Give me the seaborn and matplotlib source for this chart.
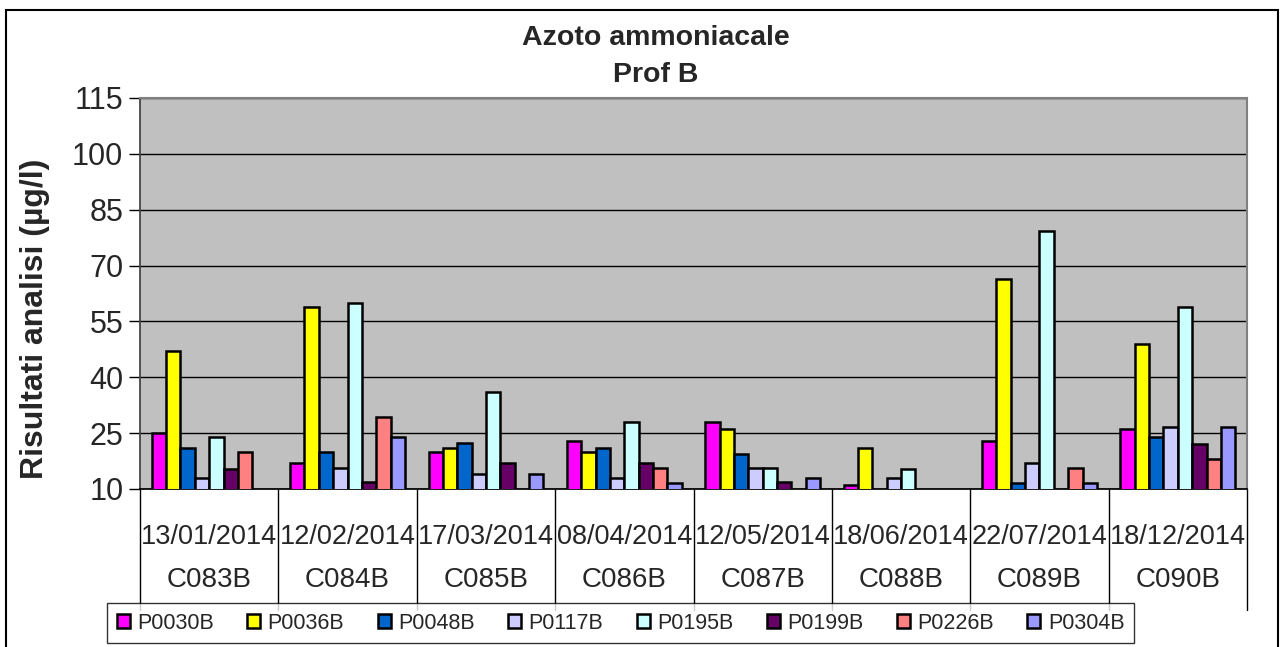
import numpy as np
import pandas as pd
import matplotlib
matplotlib.use("Agg")
import matplotlib.pyplot as plt
import seaborn as sns
from matplotlib.patches import Rectangle
from matplotlib.transforms import blended_transform_factory

# sampling campaigns (code + date)
campagne = ["C083B", "C084B", "C085B", "C086B", "C087B", "C088B", "C089B", "C090B"]
date = ["13/01/2014", "12/02/2014", "17/03/2014", "08/04/2014",
        "12/05/2014", "18/06/2014", "22/07/2014", "18/12/2014"]

punti = ["P0030B", "P0036B", "P0048B", "P0117B", "P0195B", "P0199B", "P0226B", "P0304B"]
colori = ["#FF00FF", "#FFFF00", "#0066CC", "#CCCCFF", "#CCFFFF", "#660066", "#FF8080", "#9999FF"]

nan = np.nan
P0030B = [25, 17, 20, 23, 28, 11.2, 23, 26]
P0036B = [47, 59, 21, 20, 26, 21, 66.4, 49]
P0048B = [21, 20, 22.3, 21, 19.3, nan, 11.7, 24]
P0117B = [13, 15.7, 14, 13, 15.6, 13, 17, 26.7]
P0195B = [24, 60, 36, 28, 15.6, 15.3, 79.3, 59]
P0199B = [15.3, 11.8, 17, 17, 11.8, nan, nan, 22.2]
P0226B = [20, 29.3, nan, 15.7, nan, nan, 15.7, 18]
P0304B = [nan, 24, 14, 11.6, 12.9, nan, 11.5, 26.7]

serie = [P0030B, P0036B, P0048B, P0117B, P0195B, P0199B, P0226B, P0304B]
rows = []
for p, vals in zip(punti, serie):
    for c, v in zip(campagne, vals):
        rows.append({"campagna": c, "punto": p, "valore": v})
df = pd.DataFrame(rows)

sns.set_theme(style="white")
plt.rcParams["font.family"] = ["Liberation Sans", "DejaVu Sans"]

W, H = 1280, 647
fig = plt.figure(figsize=(W / 100, H / 100), dpi=100)
x0, x1, y0, y1 = 140, 1247, 98, 489
ax = fig.add_axes([x0 / W, 1 - y1 / H, (x1 - x0) / W, (y1 - y0) / H])
ax.set_facecolor("#C0C0C0")

sns.barplot(data=df, x="campagna", y="valore", hue="punto", order=campagne,
            hue_order=punti, palette=colori, width=0.83, edgecolor="black",
            linewidth=1.8, saturation=1, errorbar=None, ax=ax, zorder=3)

ax.set_ylim(10, 115)
ax.set_xlim(-0.5, len(campagne) - 0.5)
ax.set_yticks(np.arange(10, 116, 15))
ax.yaxis.grid(True, color="black", linewidth=1)
ax.set_axisbelow(True)
ax.tick_params(axis="y", left=True, length=8, width=1, color="black",
               labelsize=22, pad=4)
ax.tick_params(axis="x", bottom=False, labelbottom=False)
ax.set_xlabel("")
ax.set_ylabel("")
for side in ["top", "right"]:
    ax.spines[side].set_color("#808080")
    ax.spines[side].set_linewidth(1.5)
ax.spines["left"].set_color("#404040")
ax.spines["bottom"].set_color("black")

# two-level category table under the axis
tr = blended_transform_factory(ax.transData, ax.transAxes)
bot_frac = (y1 - 610) / (y1 - y0)
for i in range(len(campagne) + 1):
    ax.plot([i - 0.5, i - 0.5], [0, bot_frac], transform=tr, color="black",
            linewidth=1, clip_on=False)
for i, (c, d) in enumerate(zip(campagne, date)):
    ax.text(i, (y1 - 537) / (y1 - y0), d, transform=tr, ha="center",
            va="center", fontsize=19.5)
    ax.text(i, (y1 - 580) / (y1 - y0), c, transform=tr, ha="center",
            va="center", fontsize=20)

# legend
handles, labels = ax.get_legend_handles_labels()
if ax.get_legend():
    ax.get_legend().remove()
leg = fig.legend(handles, labels, loc="upper left",
                 bbox_to_anchor=(107 / W, 1 - 603 / H), ncol=8, fontsize=15.5,
                 frameon=True, fancybox=False, edgecolor="black",
                 handlelength=0.6, handleheight=0.6, handletextpad=0.35,
                 columnspacing=1.55, borderpad=0.45, borderaxespad=0)
leg.get_frame().set_linewidth(1)

fig.text(656 / W, 1 - 38 / H, "Azoto ammoniacale", ha="center", va="center",
         fontsize=20.5, fontweight="bold")
fig.text(656 / W, 1 - 75 / H, "Prof B", ha="center", va="center",
         fontsize=20.5, fontweight="bold")
fig.text(35 / W, 1 - 319 / H, "Risultati analisi (µg/l)", rotation=90,
         ha="center", va="center", fontsize=23, fontweight="bold")

# outer chart frame
fig.patches.append(Rectangle((6 / W, -0.1), (1278 - 6) / W, 1.1 - 10 / H,
                             transform=fig.transFigure, fill=False,
                             edgecolor="black", linewidth=1.5))

fig.savefig("out.png", dpi=100)
